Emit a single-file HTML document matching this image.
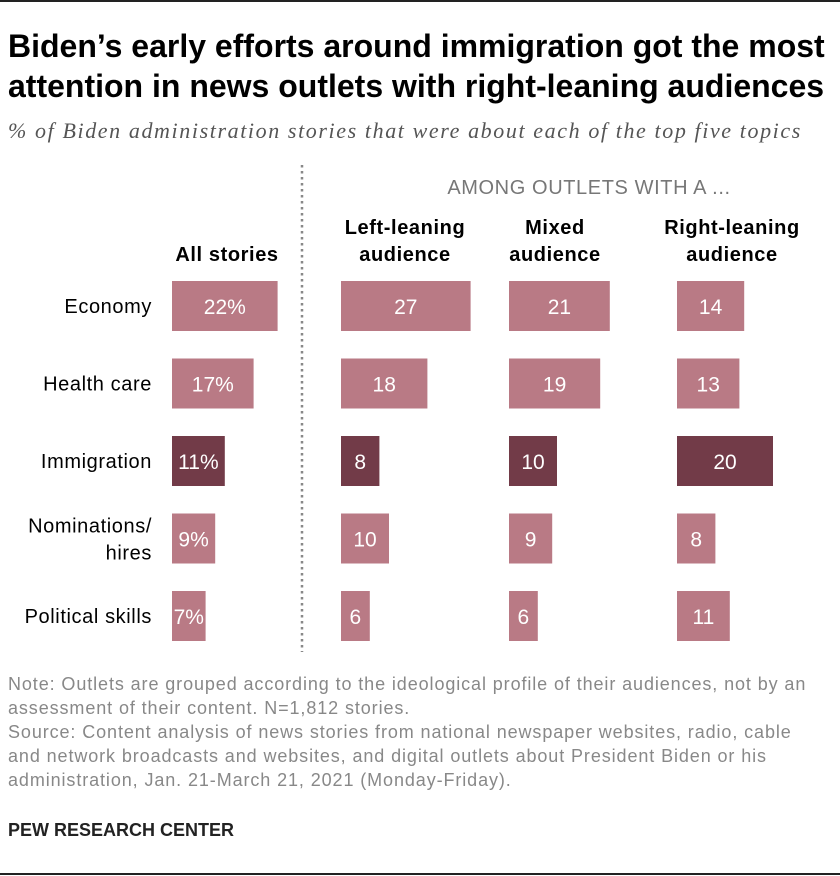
<!DOCTYPE html>
<html><head><meta charset="utf-8"><style>
body{margin:0;width:840px;height:876px;background:#fff;font-family:"Liberation Sans",sans-serif;position:relative;overflow:hidden}
.t{position:absolute;white-space:nowrap}
</style></head><body>
<div style="position:absolute;left:0;top:0;width:840px;height:2px;background:#222"></div>
<div class="t" style="left:8px;top:26px;font-size:32px;font-weight:bold;line-height:40px;color:#000">Biden’s early efforts around immigration got the most<br>attention in news outlets with right-leaning audiences</div>
<div class="t" style="left:8px;top:118px;font-family:'Liberation Serif',serif;font-style:italic;font-size:22px;letter-spacing:1.6px;color:#555">% of Biden administration stories that were about each of the top five topics</div>
<svg id="chart" width="840" height="660" style="position:absolute;left:0;top:0" font-family="Liberation Sans, sans-serif"></svg>
<div class="t" style="left:8px;top:672px;font-size:18px;letter-spacing:0.9px;line-height:24px;color:#888">Note: Outlets are grouped according to the ideological profile of their audiences, not by an<br>assessment of their content. N=1,812 stories.<br>Source: Content analysis of news stories from national newspaper websites, radio, cable<br>and network broadcasts and websites, and digital outlets about President Biden or his<br>administration, Jan. 21-March 21, 2021 (Monday-Friday).</div>
<div class="t" style="left:8px;top:820px;font-size:18px;font-weight:bold;color:#222">PEW RESEARCH CENTER</div>
<div style="position:absolute;left:0;top:873px;width:840px;height:2px;background:#222"></div>
<script>
const topics=["Economy","Health care","Immigration","Nominations/\nhires","Political skills"];
const groups=["All stories","Left-leaning\naudience","Mixed\naudience","Right-leaning\naudience"];
const allStories=[22,17,11,9,7];
const leftLeaning=[27,18,8,10,6];
const mixed=[21,19,10,9,6];
const rightLeaning=[14,13,20,8,11];
const series=[allStories,leftLeaning,mixed,rightLeaning];
const highlight="Immigration";
const svg=document.getElementById('chart');
const NS="http://www.w3.org/2000/svg";
const colX=[172,341,509,677];
const headX=[227,405,555,732];
const rowY=i=>281+i*77.5;
const xs=v=>v*4.8;
function mk(t,a){const e=document.createElementNS(NS,t);for(const k in a)e.setAttribute(k,a[k]);svg.appendChild(e);return e;}
const dl=mk('line',{x1:302,y1:165,x2:302,y2:652,stroke:'#888','stroke-width':2.5,'stroke-dasharray':'2.5 3.5'});


const am=mk('text',{x:589,y:194,'text-anchor':'middle','font-size':20,'letter-spacing':0.6,fill:'#777'});am.textContent="AMONG OUTLETS WITH A ...";


groups.forEach((g,gi)=>{
 const lines=g.split("\n");
 lines.forEach((l,li)=>{
  const t=mk('text',{x:headX[gi],y:(lines.length===1?261:234)+li*27,'text-anchor':'middle','font-size':20,'letter-spacing':0.6,'font-weight':'bold',fill:'#000'});
  t.textContent=l;
  
  
 });
});
topics.forEach((tp,i)=>{
 const lines=tp.split("\n");const cy=rowY(i)+25;
 lines.forEach((l,li)=>{
  const t=mk('text',{x:152,y:cy+7+(lines.length===2?(li===0?-13:14):0),'text-anchor':'end','font-size':20,'letter-spacing':0.6,fill:'#000'});
  t.textContent=l;
  
  
 });
 series.forEach((s,gi)=>{
  const w=xs(s[i]);
  const r=mk('rect',{x:colX[gi],y:rowY(i),width:w,height:50,fill:tp===highlight?'#723b48':'#b97a85'});
  
  
  const t=mk('text',{x:colX[gi]+w/2,y:cy+8,'text-anchor':'middle','font-size':21,fill:'#fff'});
  t.textContent=s[i]+(gi===0?'%':'');
  
  
 });
});
</script>
</body></html>
